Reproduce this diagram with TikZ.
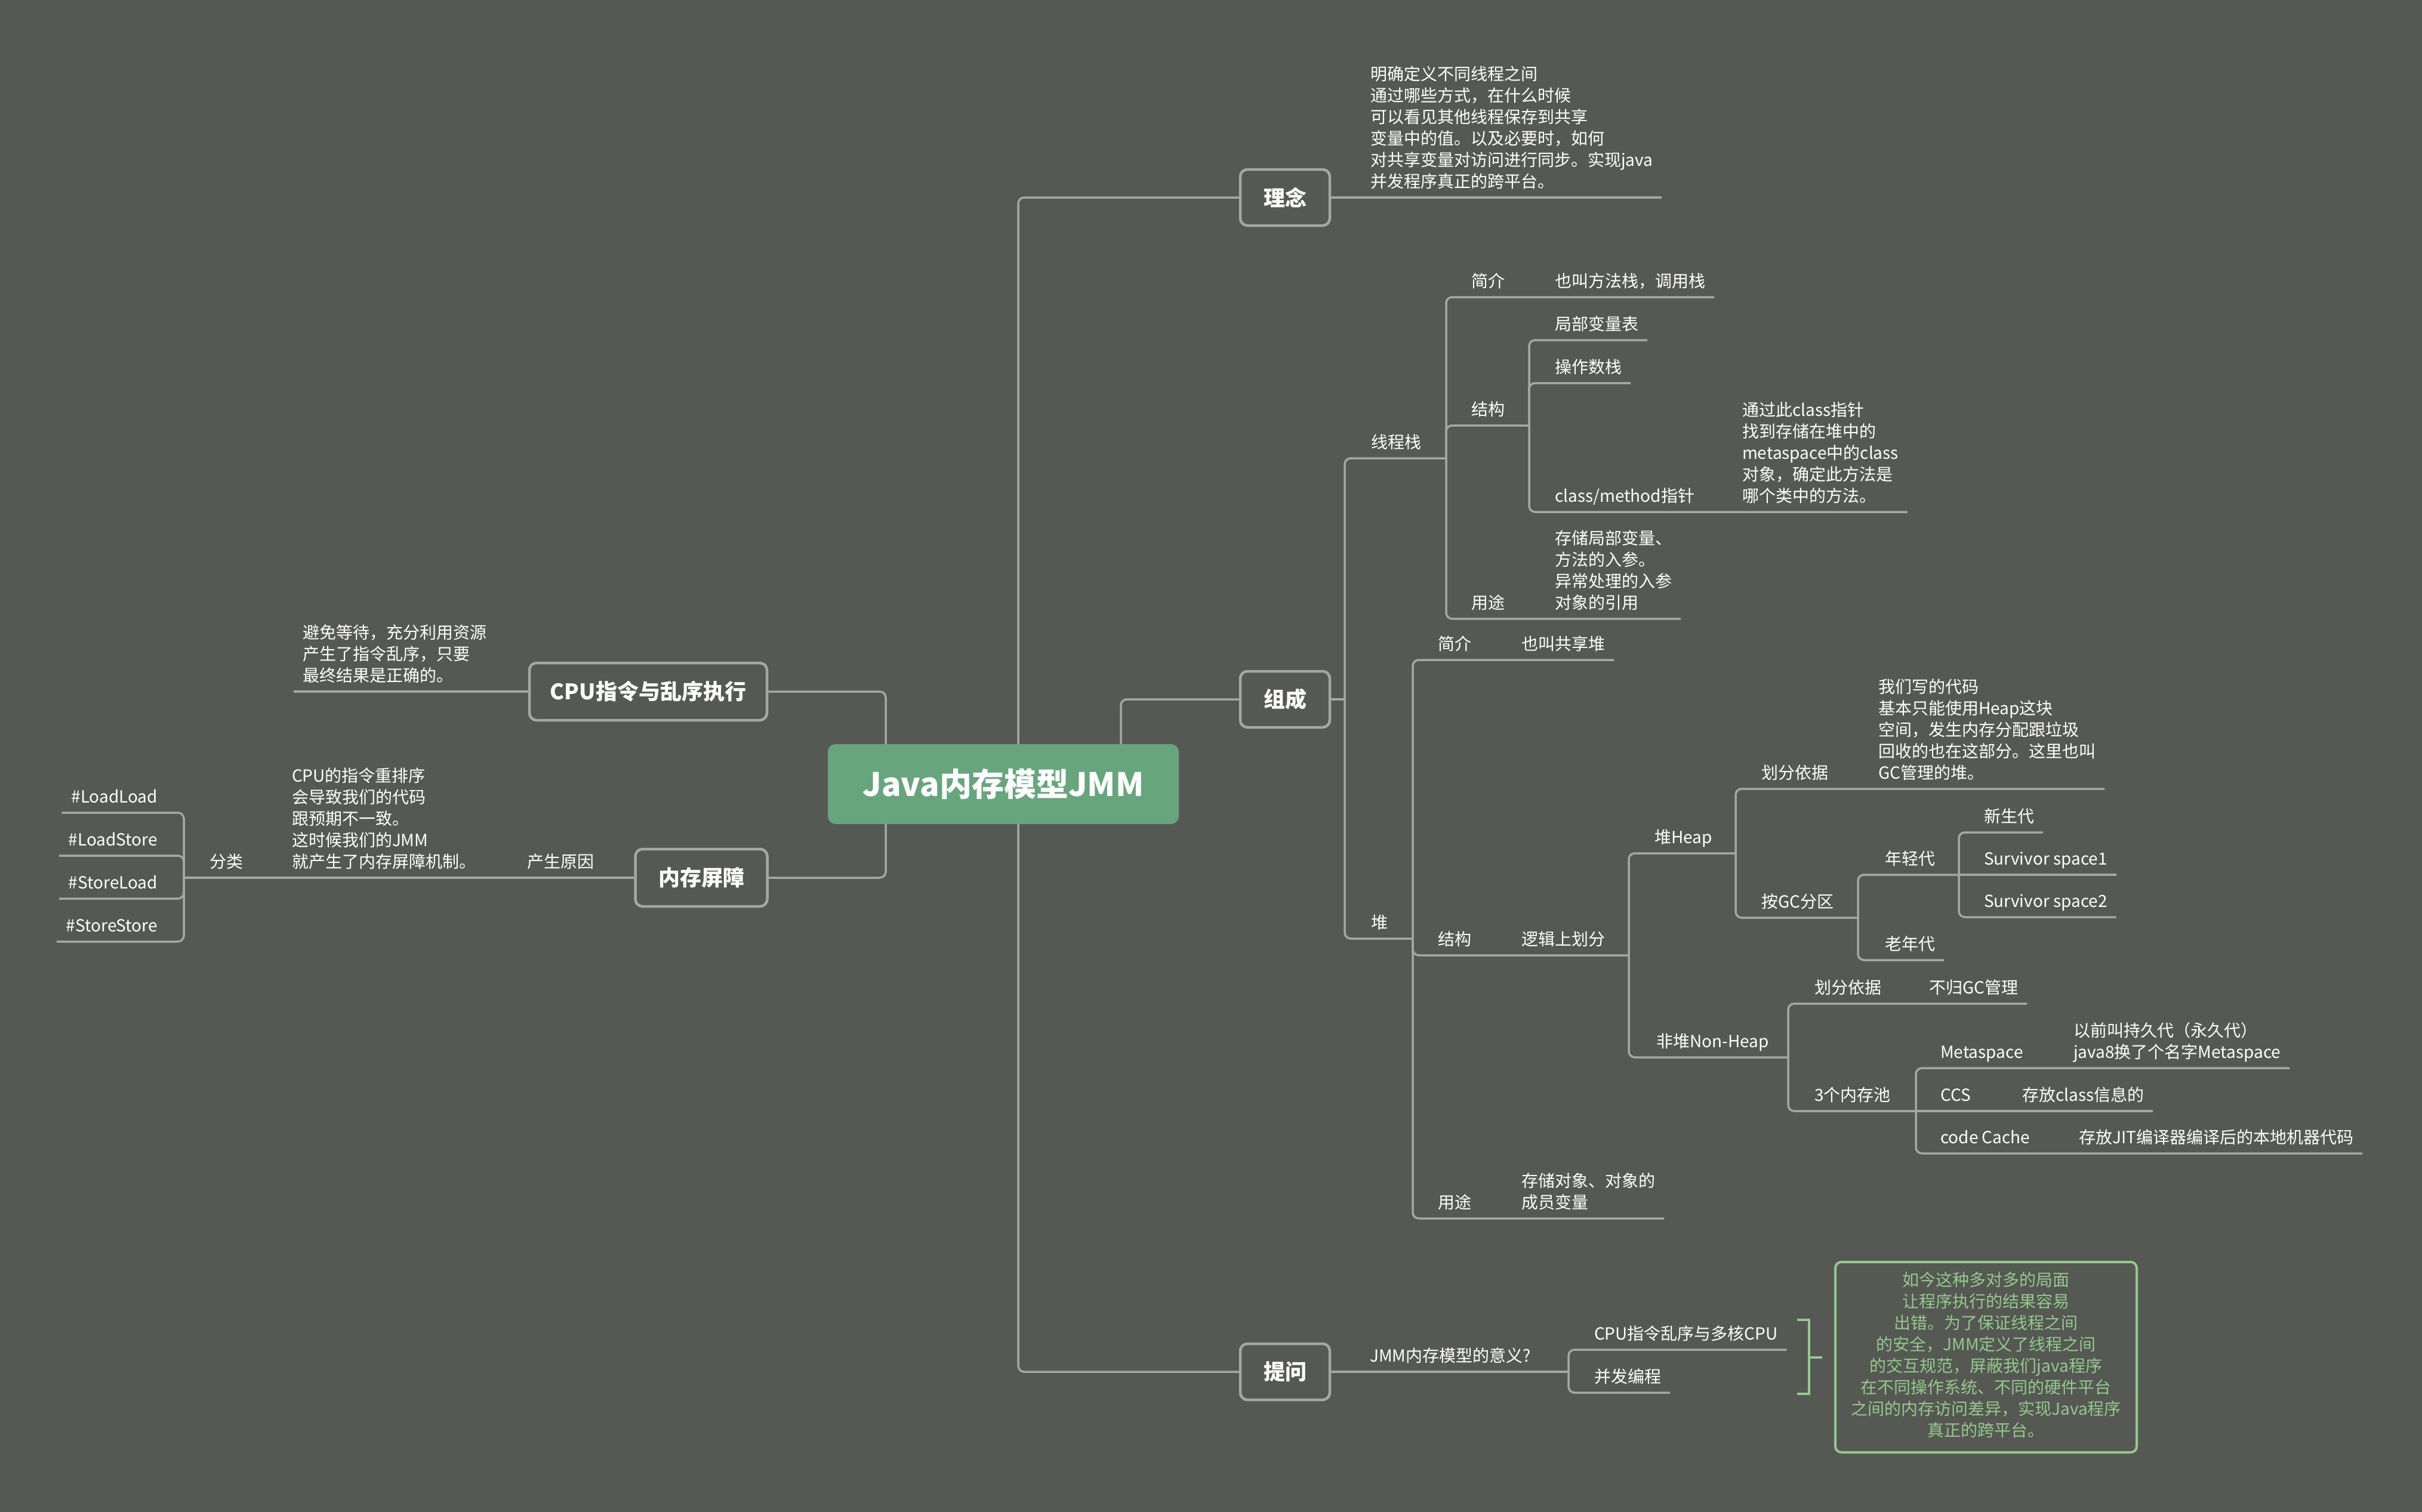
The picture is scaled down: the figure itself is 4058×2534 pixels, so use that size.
\documentclass[tikz,border=0pt]{standalone}
\usepackage{fontspec}
\setmainfont{Noto Sans CJK SC}
\usetikzlibrary{calc}
\definecolor{bg}{HTML}{565854}
\definecolor{ln}{HTML}{A5A7A3}
\definecolor{rootg}{HTML}{67A57C}
\definecolor{sumg}{HTML}{93CA8B}
\newcommand\mlines[1]{\begin{tabular}[b]{@{}l@{}}#1\end{tabular}}
\newcommand\clines[1]{\begin{tabular}{@{}c@{}}#1\end{tabular}}
\begin{document}
\begin{tikzpicture}[x=1pt,y=-1pt,
  conn/.style={draw=ln,line width=3.5pt,rounded corners=10pt},
  sumline/.style={draw=sumg,line width=4pt},
  txt/.style={inner sep=0pt,outer sep=0pt,text=white,font={\fontsize{28}{36}\selectfont},anchor=base west},
  txtr/.style={txt,anchor=base east},
  topic/.style={draw=ln,line width=4.5pt,rounded corners=12pt,fill=bg,text=white,font={\fontsize{36}{44}\selectfont\bfseries},inner sep=0pt,minimum height=94pt},
  rootbox/.style={fill=rootg,rounded corners=13pt,minimum width=588pt,minimum height=134pt,text=white,font={\fontsize{54}{60}\selectfont\bfseries},inner sep=0pt},
  sumbox/.style={draw=sumg,line width=4pt,rounded corners=10pt,minimum width=505pt,minimum height=319pt,text=sumg,font={\fontsize{28}{36}\selectfont},inner sep=0pt}
]
\fill[bg] (0,0) rectangle (4058,2534);
\useasboundingbox (0,0) rectangle (4058,2534);

% main nodes
\node[rootbox] (root) at (1681,1314) {Java内存模型JMM};
\node[topic,minimum width=150pt] (lina) at (2153,331) {理念};
\node[topic,minimum width=150pt] (zc) at (2153,1172) {组成};
\node[topic,minimum width=150pt] (tw) at (2153,2299) {提问};
\node[topic,minimum width=398pt,minimum height=96pt] (cpu) at (1086,1159) {CPU指令与乱序执行};
\node[topic,minimum width=221pt,minimum height=96pt] (ncpz) at (1175,1471) {内存屏障};

\coordinate (rA) at (1484,1247);
\coordinate (rB) at (1706,1247);
\coordinate (rC) at (1878,1247);
\coordinate (rD) at (1484,1381);
\coordinate (rE) at (1706,1381);
\draw[conn] (rA) |- (cpu.east);
\draw[conn] (rD) |- (ncpz.east);
\draw[conn] (rB) |- (lina.west);
\draw[conn] (rE) |- (tw.west);
\draw[conn] (rC) |- (zc.west);

% 理念
\node[txt] (lnt) at (2296,314) {\mlines{明确定义不同线程之间\\通过哪些方式，在什么时候\\可以看见其他线程保存到共享\\变量中的值。以及必要时，如何\\对共享变量对访问进行同步。实现java\\并发程序真正的跨平台。}};
\draw[conn] (lina.east) -- ([xshift=15pt,yshift=-17pt]lnt.base east);

% left: CPU
\node[txt] (bm) at (507,1142) {\mlines{避免等待，充分利用资源\\产生了指令乱序，只要\\最终结果是正确的。}};
\draw[conn] (cpu.west) -- ([xshift=-15pt,yshift=-17pt]bm.base west);

% left: 内存屏障
\node[txt] (csyy) at (883,1454) {产生原因};
\node[txt] (cz) at (489,1454) {\mlines{CPU的指令重排序\\会导致我们的代码\\跟预期不一致。\\这时候我们的JMM\\就产生了内存屏障机制。}};
\node[txt] (fl) at (351,1454) {分类};
\coordinate (jfl) at (308,1471);
\draw[conn] (ncpz.west) -- (jfl);
\node[txtr] (ll) at (264,1345) {\#LoadLoad};
\node[txtr] (ls) at (264,1417) {\#LoadStore};
\node[txtr] (sl) at (264,1489) {\#StoreLoad};
\node[txtr] (ss) at (264,1561) {\#StoreStore};
\draw[conn] (jfl) |- ([xshift=-16pt,yshift=-17pt]ll.base west);
\draw[conn] (jfl) |- ([xshift=-16pt,yshift=-17pt]ls.base west);
\draw[conn] (jfl) |- ([xshift=-16pt,yshift=-17pt]sl.base west);
\draw[conn] (jfl) |- ([xshift=-16pt,yshift=-17pt]ss.base west);

% 组成
\coordinate (jzc) at (2253,1172);
\draw[conn] (zc.east) -- (jzc);
\coordinate (jxc) at (2423,768);
\coordinate (jdui) at (2367,1573);
\draw[conn] (jzc) |- (jxc);
\draw[conn] (jzc) |- (jdui);
\node[txt] (xcz) at (2297,751) {线程栈};
\node[txt] (dui) at (2297,1556) {堆};

% 线程栈
\node[txt] (xjj) at (2465,481) {简介};
\node[txt] (xjjt) at (2605,481) {也叫方法栈，调用栈};
\draw[conn] (jxc) |- ([xshift=15pt,yshift=-17pt]xjjt.base east);
\node[txt] (xjg) at (2465,696) {结构};
\coordinate (jxjg) at (2562,713);
\draw[conn] (jxc) |- (jxjg);
\node[txt] (jbb) at (2605,553) {局部变量表};
\node[txt] (czs) at (2605,625) {操作数栈};
\node[txt] (cmz) at (2605,841) {class/method指针};
\node[txt] (cmt) at (2919,841) {\mlines{通过此class指针\\找到存储在堆中的\\metaspace中的class\\对象，确定此方法是\\哪个类中的方法。}};
\draw[conn] (jxjg) |- ([xshift=15pt,yshift=-17pt]jbb.base east);
\draw[conn] (jxjg) |- ([xshift=15pt,yshift=-17pt]czs.base east);
\draw[conn] (jxjg) |- ([xshift=15pt,yshift=-17pt]cmt.base east);
\node[txt] (xyt) at (2465,1020) {用途};
\node[txt] (xytt) at (2605,1020) {\mlines{存储局部变量、\\方法的入参。\\异常处理的入参\\对象的引用}};
\draw[conn] (jxc) |- ([xshift=15pt,yshift=-17pt]xytt.base east);

% 堆
\node[txt] (djj) at (2409,1089) {简介};
\node[txt] (djjt) at (2549,1089) {也叫共享堆};
\draw[conn] (jdui) |- ([xshift=15pt,yshift=-17pt]djjt.base east);
\node[txt] (djg) at (2409,1584) {结构};
\node[txt] (ljh) at (2549,1584) {逻辑上划分};
\coordinate (jljh) at (2729,1601);
\draw[conn] (jdui) |- (jljh);
\node[txt] (dyt) at (2409,2025) {用途};
\node[txt] (dytt) at (2549,2025) {\mlines{存储对象、对象的\\成员变量}};
\draw[conn] (jdui) |- ([xshift=15pt,yshift=-17pt]dytt.base east);

% 堆Heap
\node[txt] (heap) at (2772,1413) {堆Heap};
\coordinate (jheap) at (2908,1430);
\draw[conn] (jljh) |- (jheap);
\node[txt] (hyj) at (2951,1305) {划分依据};
\node[txt] (hyjt) at (3147,1305) {\mlines{我们写的代码\\基本只能使用Heap这块\\空间，发生内存分配跟垃圾\\回收的也在这部分。这里也叫\\GC管理的堆。}};
\draw[conn] (jheap) |- ([xshift=15pt,yshift=-17pt]hyjt.base east);
\node[txt] (agc) at (2951,1521) {按GC分区};
\coordinate (jagc) at (3113,1538);
\draw[conn] (jheap) |- (jagc);
\node[txt] (nqd) at (3158,1449) {年轻代};
\coordinate (jnqd) at (3282,1466);
\draw[conn] (jagc) |- (jnqd);
\node[txt] (xsd) at (3324,1378) {新生代};
\node[txt] (sv1) at (3324,1449) {Survivor space1};
\node[txt] (sv2) at (3324,1520) {Survivor space2};
\draw[conn] (jnqd) |- ([xshift=15pt,yshift=-17pt]xsd.base east);
\draw[conn] (jnqd) -- ([xshift=15pt,yshift=-17pt]sv1.base east);
\draw[conn] (jnqd) |- ([xshift=15pt,yshift=-17pt]sv2.base east);
\node[txt] (lnd) at (3158,1592) {老年代};
\draw[conn] (jagc) |- ([xshift=15pt,yshift=-17pt]lnd.base east);

% 非堆
\node[txt] (fd) at (2775,1755) {非堆Non-Heap};
\coordinate (jfd) at (2996,1772);
\draw[conn] (jljh) |- (jfd);
\node[txt] (fyj) at (3040,1665) {划分依据};
\node[txt] (fyjt) at (3232,1665) {不归GC管理};
\draw[conn] (jfd) |- ([xshift=15pt,yshift=-17pt]fyjt.base east);
\node[txt] (nc3) at (3040,1845) {3个内存池};
\coordinate (jnc3) at (3210,1862);
\draw[conn] (jfd) |- (jnc3);
\node[txt] (meta) at (3251,1773) {Metaspace};
\node[txt] (metat) at (3474,1773) {\mlines{以前叫持久代（永久代）\\java8换了个名字Metaspace}};
\node[txt] (ccs) at (3251,1845) {CCS};
\node[txt] (ccst) at (3388,1845) {存放class信息的};
\node[txt] (cc) at (3251,1916) {code Cache};
\node[txt] (cct) at (3483,1916) {存放JIT编译器编译后的本地机器代码};
\draw[conn] (jnc3) |- ([xshift=15pt,yshift=-17pt]metat.base east);
\draw[conn] (jnc3) -- ([xshift=15pt,yshift=-17pt]ccst.base east);
\draw[conn] (jnc3) |- ([xshift=15pt,yshift=-17pt]cct.base east);

% 提问
\node[txt] (yy) at (2295,2282) {JMM内存模型的意义?};
\coordinate (jyy) at (2628,2299);
\draw[conn] (tw.east) -- (jyy);
\node[txt] (dh) at (2671,2245) {CPU指令乱序与多核CPU};
\node[txt] (bf) at (2671,2317) {并发编程};
\draw[conn] (jyy) |- ([xshift=15pt,yshift=-17pt]dh.base east);
\draw[conn] (jyy) |- ([xshift=15pt,yshift=-17pt]bf.base east);

% summary
\node[sumbox] (sum) at (3327.5,2274.5) {\clines{如今这种多对多的局面\\让程序执行的结果容易\\出错。为了保证线程之间\\的安全，JMM定义了线程之间\\的交互规范，屏蔽我们java程序\\在不同操作系统、不同的硬件平台\\之间的内存访问差异，实现Java程序\\真正的跨平台。}};
\coordinate (bta) at (3011,2212);
\coordinate (btb) at (3031,2212);
\coordinate (bba) at (3011,2336);
\coordinate (bbb) at (3031,2336);
\coordinate (bmid) at (3031,2274.5);
\draw[sumline] (bta) -- (btb) -- (bbb) -- (bba);
\draw[sumline] (bmid) -- ([xshift=-20pt]sum.west);
\end{tikzpicture}
\end{document}
